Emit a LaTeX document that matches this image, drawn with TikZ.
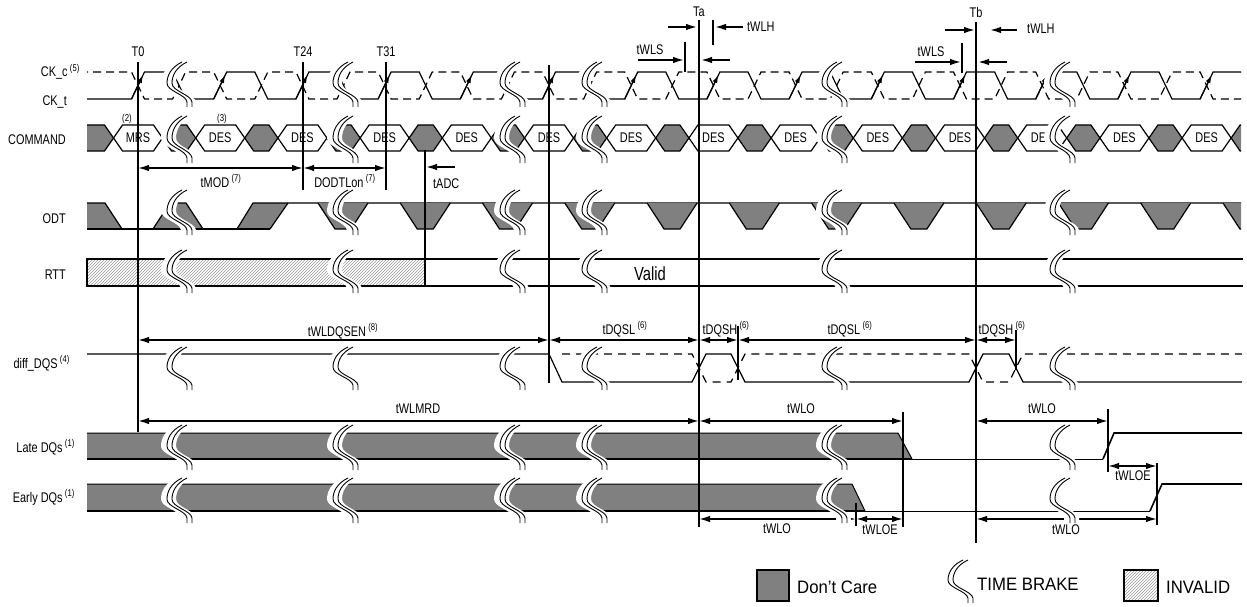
\documentclass[tikz,border=0pt]{standalone}
\usepackage{fontspec}
\setmainfont{Liberation Sans}
\newfontfamily\narrowfont{Liberation Sans}[FakeStretch=0.78]
\newfontfamily\legendfont{Liberation Sans}[FakeStretch=0.93]
\usetikzlibrary{arrows.meta}
\usetikzlibrary{patterns}
\usetikzlibrary{positioning}

\tikzset{
  sig/.style={line width=1.2pt},
  ref line/.style={line width=1.8pt},
  dim/.style={line width=1.6pt, <->},
  dimr/.style={line width=1.6pt, ->},
  brake line/.style={line width=0.9pt},
  ckdash/.style={dash pattern=on 8pt off 5pt},
  dqsdash/.style={dash pattern=on 8pt off 6pt},
  lbl/.style={font=\narrowfont\fontsize{14}{16}\selectfont, inner sep=1pt},
  siglabel/.style={lbl, anchor=base east},
  note/.style={font=\narrowfont\fontsize{10}{12}\selectfont, inner sep=0pt},
  legend/.style={font=\legendfont\fontsize{18}{20}\selectfont, anchor=base west, inner sep=0pt},
  dontcare/.style={fill=gray},
  invalid/.style={pattern=north east lines, pattern color=gray!80},
  hexbox/.style={draw, line width=1.2pt, fill=white},
  grayhex/.style={draw, line width=1.2pt, fill=gray},
}

% time brake: left edge x, top y, bottom y
\newcommand{\timebrake}[3]{%
  \pgfmathsetmacro{\brkya}{#2+0.12*(#3-#2)}%
  \pgfmathsetmacro{\brkyb}{#2+0.3*(#3-#2)}%
  \pgfmathsetmacro{\brkyc}{#2+0.47*(#3-#2)}%
  \pgfmathsetmacro{\brkyd}{#2+0.65*(#3-#2)}%
  \pgfmathsetmacro{\brkye}{#2+0.72*(#3-#2)}%
  \pgfmathsetmacro{\brkyf}{#2+0.89*(#3-#2)}%
  \fill[white] ({#1+9},#2) .. controls ({#1-2},\brkya) and ({#1-6},\brkyb) .. ({#1-6},\brkyc)
    .. controls ({#1-6},\brkyd) and ({#1+13},\brkye) .. ({#1+14},\brkyf) -- ({#1+14},#3)
    -- ({#1+29},#3) -- ({#1+29},\brkyf) .. controls ({#1+28},\brkye) and ({#1+9},\brkyd) .. ({#1+9},\brkyc)
    .. controls ({#1+9},\brkyb) and ({#1+13},\brkya) .. ({#1+24},#2) -- cycle;
  \foreach \d in {0,5} {
    \draw[brake line] ({#1+15+\d},#2) .. controls ({#1+4+\d},\brkya) and ({#1+\d},\brkyb) .. ({#1+\d},\brkyc)
      .. controls ({#1+\d},\brkyd) and ({#1+19+\d},\brkye) .. ({#1+20+\d},\brkyf) -- ({#1+20+\d},#3);
  }%
}

\begin{document}
\begin{tikzpicture}[x=1pt, y=-1pt, >={Latex[length=11pt,width=6.5pt]}]
\useasboundingbox (0,0) rectangle (1247,607);

% reference instants
\coordinate (T0) at (138,62);
\coordinate (T24) at (303,62);
\coordinate (T31) at (386,62);
\coordinate (Tw) at (549,65);
\coordinate (Ta) at (699,20);
\coordinate (Tb) at (976,22);
\coordinate (tadc) at (425,150);
\coordinate (dqsh a) at (738,326);
\coordinate (dqsh b) at (1016,330);
\coordinate (late a) at (903,412);
\coordinate (late b) at (1108,409);
\coordinate (early a) at (856,503);
\coordinate (early b) at (1157,463);
\coordinate (wlh a) at (713,20);
\coordinate (wls a) at (685,42);
\coordinate (wls b) at (962,43);
\coordinate (yMOD) at (0,168);
\coordinate (yDQS) at (0,340);
\coordinate (yMRD) at (0,421);
\coordinate (yOE) at (0,466);
\coordinate (yEO) at (0,519);

% signal names
\node[siglabel] (ckc) at (81,77) {CK\_c\,\textsuperscript{(5)}};
\node[siglabel] (ckt) at (68,106) {CK\_t};
\node[siglabel] (command) at (67,144) {COMMAND};
\node[siglabel] (odt) at (67,223) {ODT};
\node[siglabel] (rtt) at (67,279) {RTT};
\node[siglabel] (dqs) at (71,368) {diff\_DQS\,\textsuperscript{(4)}};
\node[siglabel] (late) at (76,452) {Late DQs\,\textsuperscript{(1)}};
\node[siglabel] (early) at (76,502) {Early DQs\,\textsuperscript{(1)}};

% CK_t / CK_c
\begin{scope}
  \clip (87,55) rectangle (1241,115);
  \draw[sig] (80,99) \foreach \k in {0,...,14} {
    -- ({138+82.2*\k-6.5},99) -- ({138+82.2*\k+6.5},72) -- ({138+82.2*\k+34.6},72) -- ({138+82.2*\k+47.6},99) };
  \draw[sig, ckdash] (80,72) \foreach \k in {0,...,14} {
    -- ({138+82.2*\k-6.5},72) -- ({138+82.2*\k+6.5},99) -- ({138+82.2*\k+34.6},99) -- ({138+82.2*\k+47.6},72) };
\end{scope}
\foreach \k in {0,...,13}
  \draw[sig, -{Latex[length=8pt,width=5pt]}] ({138+82.2*\k-6.5},99) -- ({138+82.2*\k+5},75);

% COMMAND
\begin{scope}
  \clip (87,110) rectangle (1241,160);
  \filldraw[grayhex] (87,125) -- (104.5,125) -- (113.5,138) -- (104.5,151) -- (87,151);
  \foreach \k [evaluate=\k as \c using 138+82.2*\k] in {0,...,13} {
    \filldraw[hexbox] ({\c-24.5},138) -- ({\c-15.5},125) -- ({\c+15.5},125) -- ({\c+24.5},138) -- ({\c+15.5},151) -- ({\c-15.5},151) -- cycle;
    \filldraw[grayhex] ({\c+24.5},138) -- ({\c+33.5},125) -- ({\c+48.7},125) -- ({\c+57.7},138) -- ({\c+48.7},151) -- ({\c+33.5},151) -- cycle;
  }
\end{scope}
\node[lbl] (cmd-0) at (138,138) {MRS};
\foreach \k [evaluate=\k as \c using 138+82.2*\k] in {1,...,13}
  \node[lbl] (cmd-\k) at (\c,138) {DES};
\node[note, anchor=base] (n2) at (127,122) {(2)};
\node[note, anchor=base] (n3) at (222,122) {(3)};

% ODT
\fill[dontcare] (87,203) -- (105,203) -- (122,229) -- (87,229) -- cycle;
\fill[dontcare] (153,229) -- (170,203) -- (186,203) -- (203,229) -- cycle;
\fill[dontcare] (237,229) -- (253,203) -- (288,203) -- (270,229) -- cycle;
\draw[sig] (87,203) -- (105,203) -- (122,229);
\draw[sig] (87,229) -- (270,229);
\draw[sig] (153,229) -- (170,203) -- (186,203) -- (203,229);
\draw[sig] (237,229) -- (253,203) -- (1241,203);
\draw[sig] (270,229) -- (288,203);
\begin{scope}
  \clip (87,190) rectangle (1241,240);
  \foreach \i [evaluate=\i as \c using 343+82.27*\i] in {0,...,11} {
    \fill[dontcare] ({\c-25},203) -- ({\c-8},229) -- ({\c+8},229) -- ({\c+25},203) -- cycle;
    \draw[sig] ({\c-25},203) -- ({\c-8},229) -- ({\c+8},229) -- ({\c+25},203);
  }
\end{scope}

% RTT
\filldraw[invalid, draw=black, line width=1.5pt] (87,259) rectangle (tadc |- 0,286);
\draw[line width=1.4pt] (425,259) -- (1243,259);
\draw[line width=1.4pt] (425,286) -- (1243,286);
\node[font=\narrowfont\fontsize{19}{21}\selectfont, anchor=base, inner sep=0pt] (valid) at (650,280) {Valid};

% diff_DQS
\draw[sig] (87,354) -- (549,354) -- (562,382) -- (692,382) -- (706,354) -- (731,354) -- (745,382)
  -- (969,382) -- (983,354) -- (1009,354) -- (1023,382) -- (1242,382);
\draw[sig, dqsdash] (562,354) -- (692,354) -- (706,382) -- (731,382) -- (745,354)
  -- (969,354) -- (983,382) -- (1009,382) -- (1023,354) -- (1242,354);

% Late DQs
\fill[dontcare] (87,433) -- (898,433) -- (912,459) -- (87,459) -- cycle;
\draw[line width=1pt] (87,433) -- (898,433) -- (912,459);
\draw[line width=2pt] (87,459) -- (912,459);
\draw[line width=1pt] (912,459) -- (1103,459);
\draw[line width=1.6pt] (1103,459) -- (1114,433) -- (1242,433);

% Early DQs
\fill[dontcare] (87,484) -- (852,484) -- (865,511) -- (87,511) -- cycle;
\draw[line width=1pt] (87,484) -- (852,484) -- (865,511);
\draw[line width=2pt] (87,511) -- (865,511);
\draw[line width=1pt] (865,511) -- (1150,511);
\draw[line width=1.6pt] (1150,511) -- (1162,484) -- (1242,484);

% tWLO of the early DQs, cut by the brakes
\draw[dim] (Ta |- yEO) -- (early a |- yEO);
\draw[dim] (Tb |- yEO) -- (early b |- yEO);

% time brakes
\foreach \ytop/\ybot in {62/107, 116/163, 190/235, 250/293, 347/390, 425/470, 478/523} {
  \foreach \bx in {167,333,500,582,822,1050} {
    \timebrake{\bx}{\ytop}{\ybot}
  }
}

% reference lines
\draw[ref line] (T0) -- ++(0,370);
\draw[ref line] (T24) -- ++(0,128);
\draw[ref line] (T31) -- ++(0,128);
\draw[ref line] (Tw) -- ++(0,318);
\draw[ref line] (Ta) -- ++(0,507);
\draw[ref line] (Tb) -- ++(0,521);
\draw[ref line] (tadc) -- ++(0,136);
\draw[ref line] (dqsh a) -- ++(0,54);
\draw[ref line] (dqsh b) -- ++(0,40);
\draw[ref line] (late a) -- ++(0,115);
\draw[ref line] (late b) -- ++(0,63);
\draw[ref line] (early a) -- ++(0,23);
\draw[ref line] (early b) -- ++(0,62);
\draw[ref line] (wlh a) -- ++(0,25);
\draw[ref line] (wls a) -- ++(0,30);
\draw[ref line] (wls b) -- ++(0,30);

\node[lbl, above=4pt of T0] (T0 label) {T0};
\node[lbl, above=4pt of T24] (T24 label) {T24};
\node[lbl, above=4pt of T31] (T31 label) {T31};
\node[lbl, above=2pt of Ta] (Ta label) {Ta};
\node[lbl, above=3pt of Tb] (Tb label) {Tb};

% setup and hold at Ta and Tb
\draw[dimr] (668,27) -- (697,27);
\draw[dimr] (743,27) -- (715,27);
\node[lbl, anchor=base west] (tWLH a) at (746,32) {tWLH};
\node[lbl, anchor=base] (tWLS a) at (650,55) {tWLS};
\draw[dimr] (638,60) -- (684,60);
\draw[dimr] (730,60) -- (701,60);
\draw[dimr] (945,30) -- (975,30);
\draw[dimr] (1017,30) -- (990,30);
\node[lbl, anchor=base west] (tWLH b) at (1026,34) {tWLH};
\node[lbl, anchor=base] (tWLS b) at (931,57) {tWLS};
\draw[dimr] (915,62) -- (961,62);
\draw[dimr] (1007,62) -- (978,62);

% timing parameters
\draw[dim] (T0 |- yMOD) -- (T24 |- yMOD);
\draw[dim] (T24 |- yMOD) -- (T31 |- yMOD);
\draw[dimr] (455,167) -- (426,167);
\draw[dim] (T0 |- yDQS) -- (Tw |- yDQS);
\draw[dim] (Tw |- yDQS) -- (Ta |- yDQS);
\draw[dim] (Ta |- yDQS) -- (dqsh a |- yDQS);
\draw[dim] (dqsh a |- yDQS) -- (Tb |- yDQS);
\draw[dim] (Tb |- yDQS) -- (dqsh b |- yDQS);
\draw[dim] (T0 |- yMRD) -- (Ta |- yMRD);
\draw[dim] (Ta |- yMRD) -- (late a |- yMRD);
\draw[dim] (Tb |- yMRD) -- (late b |- yMRD);
\draw[dim] (late b |- yOE) -- (early b |- yOE);
\draw[dim] (early a |- yEO) -- (late a |- yEO);

\node[lbl, anchor=base] (tMOD) at (221,187) {tMOD\,\textsuperscript{(7)}};
\node[lbl, anchor=base] (DODTLon) at (345,187) {DODTLon\,\textsuperscript{(7)}};
\node[lbl, anchor=base west] (tADC) at (432,188) {tADC};
\node[lbl, anchor=base] (tWLDQSEN) at (343,336) {tWLDQSEN\,\textsuperscript{(8)}};
\node[lbl, anchor=base] (tDQSL a) at (625,334) {tDQSL\,\textsuperscript{(6)}};
\node[lbl, anchor=base] (tDQSH a) at (726,334) {tDQSH\,\textsuperscript{(6)}};
\node[lbl, anchor=base] (tDQSL b) at (850,334) {tDQSL\,\textsuperscript{(6)}};
\node[lbl, anchor=base] (tDQSH b) at (1002,334) {tDQSH\,\textsuperscript{(6)}};
\node[lbl, anchor=base] (tWLMRD) at (418,413) {tWLMRD};
\node[lbl, anchor=base] (tWLO a) at (801,413) {tWLO};
\node[lbl, anchor=base] (tWLO b) at (1042,413) {tWLO};
\node[lbl, anchor=base] (tWLOE b) at (1133,480) {tWLOE};
\node[lbl, anchor=base] (tWLO c) at (777,533) {tWLO};
\node[lbl, anchor=base] (tWLOE a) at (880,534) {tWLOE};
\node[lbl, anchor=base] (tWLO d) at (1066,534) {tWLO};

% legend
\filldraw[dontcare, draw=black, line width=1.8pt] (757,570) rectangle (789,601);
\node[legend] (dc text) at (797,593) {Don’t Care};
\timebrake{948}{560}{603}
\node[legend] (tb text) at (977,590) {TIME BRAKE};
\filldraw[invalid, draw=black, line width=1.8pt] (1124,570) rectangle (1158,601);
\node[legend] (inv text) at (1166,593) {INVALID};

\end{tikzpicture}
\end{document}
